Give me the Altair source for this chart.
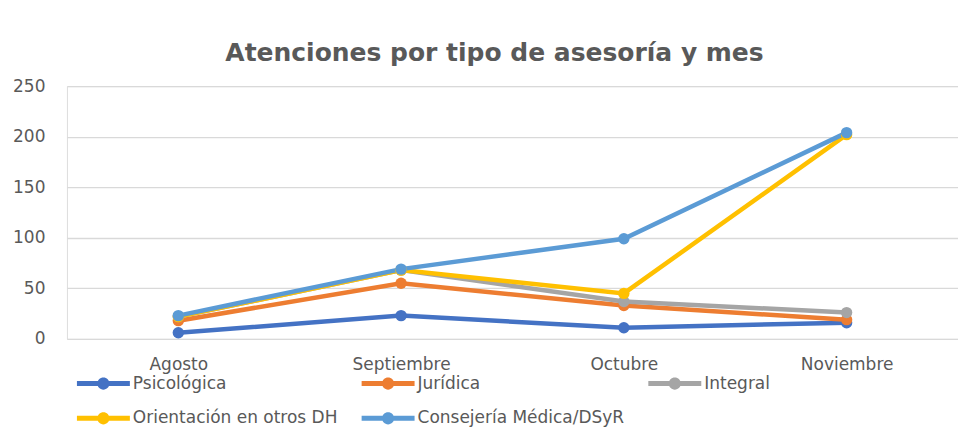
import altair as alt
import pandas as pd

months = ["Agosto", "Septiembre", "Octubre", "Noviembre"]
series = ["Psicológica", "Jurídica", "Integral", "Orientación en otros DH", "Consejería Médica/DSyR"]
psicologica = [6, 23, 11, 16]
juridica = [18, 55, 33, 19]
integral = [22, 68, 37, 26]
orientacion = [22, 68, 45, 202]
consejeria = [23, 69, 99, 204]
colors = ["#4472C4", "#ED7D31", "#A5A5A5", "#FFC000", "#5B9BD5"]

rows = []
for name, vals in zip(series, [psicologica, juridica, integral, orientacion, consejeria]):
    for m, v in zip(months, vals):
        rows.append({"Mes": m, "Serie": name, "Valor": v})
df = pd.DataFrame(rows)

FONT = "DejaVu Sans"
symbol_path = ("M-1,-0.095 L1,-0.095 L1,0.095 L-1,0.095 Z "
               "M0.23,0 A0.23,0.23 0 1,1 -0.23,0 A0.23,0.23 0 1,1 0.23,0 Z")

x = alt.X("Mes:N", sort=months, scale=alt.Scale(type="point", padding=0.5),
          axis=alt.Axis(title=None, labelAngle=0, domain=False, ticks=False, grid=False,
                        labelFontSize=17, labelColor="#595959", labelFont=FONT, labelPadding=18))
y = alt.Y("Valor:Q", scale=alt.Scale(domain=[0, 250]),
          axis=alt.Axis(title=None, values=[0, 50, 100, 150, 200, 250], domain=False, ticks=False,
                        gridColor="#D9D9D9", gridWidth=1.3, labelFontSize=17, labelColor="#595959",
                        labelFont=FONT, labelPadding=22))
color = alt.Color("Serie:N", sort=series,
                  scale=alt.Scale(domain=series, range=colors),
                  legend=alt.Legend(title=None, orient="none", legendX=10, legendY=271,
                                    columns=3, direction="horizontal",
                                    symbolType=symbol_path, symbolSize=2809,
                                    symbolStrokeWidth=0, symbolOpacity=1,
                                    labelFontSize=17, labelColor="#595959", labelFont=FONT,
                                    labelOffset=3, columnPadding=24, rowPadding=-13,
                                    labelLimit=300))

base = alt.Chart(df)

lines = base.mark_line(strokeWidth=4.5).encode(x=x, y=y, color=color)
points = base.mark_point(filled=True, size=130, opacity=1).encode(x=x, y=y, color=color)

chart = alt.layer(lines, points).properties(
    width=892, height=253,
    title=alt.TitleParams("Atenciones por tipo de asesoría y mes", fontSize=25, font=FONT,
                          fontWeight="bold", color="#595959", anchor="middle", dx=-18, offset=11),
    padding={"left": 4, "top": 33, "right": 0, "bottom": 0},
).configure_view(stroke=None).configure(background="white")

chart.save("out.html", embed_options={"renderer": "svg", "actions": False})
